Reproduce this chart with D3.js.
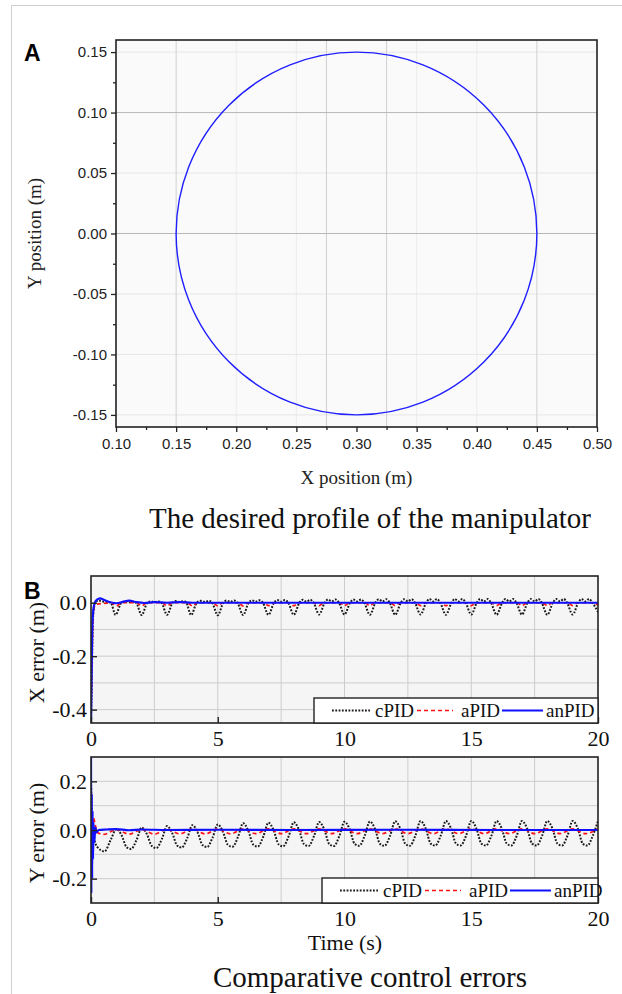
<!DOCTYPE html>
<html>
<head>
<meta charset="utf-8">
<script src="https://cdn.jsdelivr.net/npm/d3@7"></script>
<style>
  body { margin: 0; background: #fff; }
  svg { display: block; }
</style>
</head>
<body>
<div id="chart"></div>
<script>
// ---- panel A: desired circular profile ----
const circleCenter = [0.30, 0.00];
const circleRadius = 0.15;
const xTicksA = [0.10, 0.15, 0.20, 0.25, 0.30, 0.35, 0.40, 0.45, 0.50];
const yTicksA = [-0.15, -0.10, -0.05, 0.00, 0.05, 0.10, 0.15];
// grid lines that show in the figure (some darker than others)
const gridXA = [0.15, 0.275, 0.325, 0.45];
const gridYA = [0.10, 0.00];
const faintGridXA = [0.20, 0.25, 0.35, 0.40];
const faintGridYA = [0.15, 0.05, -0.05, -0.10, -0.15];

// ---- panel B: control errors, [time, error] ----
const xTicksB = [0, 5, 10, 15, 20];
const yTicksBx = [0.0, -0.2, -0.4];
const yTicksBy = [0.2, 0.0, -0.2];
const seriesNames = ["cPID", "aPID", "anPID"];

const cPIDx = [[0,-0.45],[0.03,-0.3],[0.06,-0.12],[0.1,-0.03],[0.15,0.0],[0.3,0.008],[0.5,0.004],[0.7,0.002],
  [0.78,0.0],[0.97,-0.045],[1.2,0.0],[1.35,0.004],[1.5,0.002],[1.65,0.004],
  [1.78,0.0],[2.0,-0.046],[2.22,0.0],[2.35,0.005],[2.5,0.002],[2.65,0.005],
  [2.78,0.0],[3.0,-0.045],[3.22,0.0],[3.35,0.006],[3.5,0.003],[3.65,0.006],
  [3.76,0.0],[3.95,-0.046],[4.17,0.0],[4.32,0.007],[4.5,0.003],[4.65,0.007],
  [4.78,0.0],[5.0,-0.047],[5.22,0.0],[5.35,0.008],[5.5,0.003],[5.65,0.008],
  [5.78,0.0],[6.0,-0.046],[6.22,0.0],[6.35,0.009],[6.5,0.004],[6.65,0.009],
  [6.78,0.0],[7.0,-0.045],[7.22,0.0],[7.35,0.010],[7.5,0.004],[7.65,0.010],
  [7.78,0.0],[8.0,-0.045],[8.22,0.0],[8.35,0.011],[8.5,0.004],[8.65,0.011],
  [8.78,0.0],[9.0,-0.044],[9.22,0.0],[9.35,0.012],[9.5,0.005],[9.65,0.012],
  [9.78,0.0],[10.0,-0.044],[10.22,0.0],[10.35,0.012],[10.5,0.005],[10.65,0.012],
  [10.78,0.0],[11.0,-0.045],[11.22,0.0],[11.35,0.013],[11.5,0.005],[11.65,0.013],
  [11.78,0.0],[12.0,-0.045],[12.22,0.0],[12.35,0.013],[12.5,0.005],[12.65,0.013],
  [12.78,0.0],[13.0,-0.044],[13.22,0.0],[13.35,0.014],[13.5,0.005],[13.65,0.014],
  [13.78,0.0],[14.0,-0.045],[14.22,0.0],[14.35,0.014],[14.5,0.005],[14.65,0.014],
  [14.78,0.0],[15.0,-0.044],[15.22,0.0],[15.35,0.014],[15.5,0.005],[15.65,0.014],
  [15.78,0.0],[16.0,-0.045],[16.22,0.0],[16.35,0.014],[16.5,0.005],[16.65,0.014],
  [16.78,0.0],[17.0,-0.044],[17.22,0.0],[17.35,0.014],[17.5,0.005],[17.65,0.014],
  [17.78,0.0],[18.0,-0.045],[18.22,0.0],[18.35,0.014],[18.5,0.005],[18.65,0.014],
  [18.78,0.0],[19.0,-0.044],[19.22,0.0],[19.35,0.014],[19.5,0.005],[19.65,0.014],
  [19.78,0.0],[20.0,-0.035]];

const aPIDx = [[0,-0.42],[0.04,-0.2],[0.08,-0.05],[0.15,-0.012],[0.3,-0.004],[0.6,-0.002],
  [0.8,0.0],[1.0,-0.012],[1.2,0.0],[1.8,0.0],[2.0,-0.012],[2.2,0.0],[2.8,0.0],[3.0,-0.012],[3.2,0.0],
  [3.8,0.0],[4.0,-0.012],[4.2,0.0],[4.8,0.0],[5.0,-0.012],[5.2,0.0],[5.8,0.0],[6.0,-0.012],[6.2,0.0],
  [6.8,0.0],[7.0,-0.011],[7.2,0.0],[7.8,0.0],[8.0,-0.011],[8.2,0.0],[8.8,0.0],[9.0,-0.011],[9.2,0.0],
  [9.8,0.0],[10.0,-0.011],[10.2,0.0],[10.8,0.0],[11.0,-0.011],[11.2,0.0],[11.8,0.0],[12.0,-0.011],[12.2,0.0],
  [12.8,0.0],[13.0,-0.011],[13.2,0.0],[13.8,0.0],[14.0,-0.011],[14.2,0.0],[14.8,0.0],[15.0,-0.011],[15.2,0.0],
  [15.8,0.0],[16.0,-0.011],[16.2,0.0],[16.8,0.0],[17.0,-0.011],[17.2,0.0],[17.8,0.0],[18.0,-0.011],[18.2,0.0],
  [18.8,0.0],[19.0,-0.011],[19.2,0.0],[19.8,0.0],[20.0,-0.01]];

const anPIDx = [[0,-0.45],[0.02,-0.3],[0.05,-0.1],[0.1,-0.02],[0.2,0.008],[0.35,0.016],[0.55,0.009],
  [0.8,0.001],[1.0,-0.002],[1.25,0.003],[1.5,0.008],[1.8,0.002],[2.1,-0.001],[2.5,0.002],[3.0,0.0],
  [3.5,0.002],[4.0,0.0],[6.0,0.0],[10.0,0.0],[14.0,0.0],[20.0,0.0]];

const cPIDy = [[0,0.2],[0.05,0.05],[0.1,-0.02],[0.25,-0.07],[0.53,-0.088],[0.78,-0.04],
  [1.0,0.004],[1.2,-0.02],[1.4,-0.07],[1.58,-0.078],[1.8,-0.04],
  [2.0,0.010],[2.2,-0.016],[2.4,-0.066],[2.58,-0.074],[2.8,-0.036],
  [3.0,0.016],[3.2,-0.012],[3.4,-0.064],[3.58,-0.072],[3.8,-0.032],
  [4.0,0.020],[4.2,-0.008],[4.4,-0.062],[4.58,-0.070],[4.8,-0.03],
  [5.0,0.023],[5.2,-0.006],[5.4,-0.061],[5.58,-0.069],[5.8,-0.028],
  [6.0,0.028],[6.2,-0.002],[6.4,-0.06],[6.58,-0.068],[6.8,-0.026],
  [7.0,0.030],[7.2,0.0],[7.4,-0.059],[7.58,-0.067],[7.8,-0.025],
  [8.0,0.032],[8.2,0.002],[8.4,-0.058],[8.58,-0.066],[8.8,-0.024],
  [9.0,0.033],[9.2,0.003],[9.4,-0.058],[9.58,-0.066],[9.8,-0.024],
  [10.0,0.034],[10.2,0.004],[10.4,-0.057],[10.58,-0.065],[10.8,-0.023],
  [11.0,0.035],[11.2,0.005],[11.4,-0.057],[11.58,-0.065],[11.8,-0.023],
  [12.0,0.036],[12.2,0.006],[12.4,-0.057],[12.58,-0.065],[12.8,-0.022],
  [13.0,0.037],[13.2,0.007],[13.4,-0.056],[13.58,-0.064],[13.8,-0.022],
  [14.0,0.037],[14.2,0.007],[14.4,-0.056],[14.58,-0.064],[14.8,-0.022],
  [15.0,0.037],[15.2,0.007],[15.4,-0.056],[15.58,-0.064],[15.8,-0.022],
  [16.0,0.037],[16.2,0.007],[16.4,-0.056],[16.58,-0.064],[16.8,-0.022],
  [17.0,0.037],[17.2,0.007],[17.4,-0.056],[17.58,-0.064],[17.8,-0.022],
  [18.0,0.037],[18.2,0.007],[18.4,-0.056],[18.58,-0.064],[18.8,-0.022],
  [19.0,0.037],[19.2,0.007],[19.4,-0.056],[19.58,-0.064],[19.8,-0.022],
  [20.0,0.037]];

const aPIDy = [[0,0.18],[0.02,-0.2],[0.05,0.02],[0.1,0.05],[0.15,0.03],[0.25,-0.01],[0.5,-0.018],
  [1.0,0.002],[1.5,-0.017],[2.0,0.003],[2.5,-0.017],[3.0,0.003],[3.5,-0.016],[4.0,0.004],[4.5,-0.016],
  [5.0,0.004],[5.5,-0.016],[6.0,0.004],[6.5,-0.015],[7.0,0.005],[7.5,-0.015],[8.0,0.005],[8.5,-0.015],
  [9.0,0.005],[9.5,-0.015],[10.0,0.005],[10.5,-0.015],[11.0,0.005],[11.5,-0.015],[12.0,0.005],[12.5,-0.015],
  [13.0,0.005],[13.5,-0.015],[14.0,0.005],[14.5,-0.015],[15.0,0.005],[15.5,-0.015],[16.0,0.005],[16.5,-0.015],
  [17.0,0.005],[17.5,-0.015],[18.0,0.005],[18.5,-0.015],[19.0,0.005],[19.5,-0.015],[20.0,0.005]];

const anPIDy = [[0,0.3],[0.015,-0.26],[0.03,0.15],[0.045,-0.2],[0.06,0.08],[0.08,-0.12],[0.1,0.03],
  [0.13,-0.05],[0.17,0.01],[0.22,-0.01],[0.3,0.0],[0.6,0.002],[1.0,0.004],[1.5,-0.001],[2.0,0.002],
  [3.0,0.0],[5.0,0.001],[8.0,0.0],[12.0,0.001],[16.0,0.0],[20.0,0.0]];

const W = 622, H = 994;
const serif = '"Times New Roman", "Liberation Serif", serif';
const sans = 'Arial, "Liberation Sans", sans-serif';
// the figure writes negatives with a plain hyphen
const hyphen = f => d => f(d).replace("\u2212", "-");

const svg = d3.select("#chart").append("svg")
  .attr("width", W).attr("height", H);

// outer frame of the figure (light gray, left and top)
svg.append("rect")
  .attr("x", 11.5).attr("y", 5.5).attr("width", 640).attr("height", 1000)
  .attr("fill", "none").attr("stroke", "#cfcfcf");

// ================= panel A =================
const pA = {left: 116, right: 597, top: 40, bottom: 427};
const xA = d3.scaleLinear().domain([0.1, 0.5]).range([pA.left, pA.right]);
const yA = d3.scaleLinear().domain([-0.16, 0.16]).range([pA.bottom, pA.top]);

svg.append("rect")
  .attr("x", pA.left).attr("y", pA.top)
  .attr("width", pA.right - pA.left).attr("height", pA.bottom - pA.top)
  .attr("fill", "#fafafa");

const gA = svg.append("g");
gA.selectAll(".fgx").data(faintGridXA).join("line")
  .attr("x1", d => xA(d)).attr("x2", d => xA(d))
  .attr("y1", pA.top).attr("y2", pA.bottom)
  .attr("stroke", "#ececec");
gA.selectAll(".fgy").data(faintGridYA).join("line")
  .attr("y1", d => yA(d)).attr("y2", d => yA(d))
  .attr("x1", pA.left).attr("x2", pA.right)
  .attr("stroke", "#e6e6e6");
gA.selectAll(".gx").data(gridXA).join("line")
  .attr("x1", d => xA(d)).attr("x2", d => xA(d))
  .attr("y1", pA.top).attr("y2", pA.bottom)
  .attr("stroke", "#d0d0d0");
gA.selectAll(".gy").data(gridYA).join("line")
  .attr("y1", d => yA(d)).attr("y2", d => yA(d))
  .attr("x1", pA.left).attr("x2", pA.right)
  .attr("stroke", "#b8b8b8");

svg.append("ellipse")
  .attr("cx", xA(circleCenter[0])).attr("cy", yA(circleCenter[1]))
  .attr("rx", xA(circleCenter[0] + circleRadius) - xA(circleCenter[0]))
  .attr("ry", yA(circleCenter[1] - circleRadius) - yA(circleCenter[1]))
  .attr("fill", "none").attr("stroke", "#1f1fff").attr("stroke-width", 1.4);

// minor ticks between majors
const minorXA = d3.range(0.125, 0.5, 0.05);
const minorYA = d3.range(-0.125, 0.15, 0.05);

const axA = svg.append("g").attr("transform", `translate(0,${pA.bottom})`)
  .call(d3.axisBottom(xA).tickValues(xTicksA).tickFormat(hyphen(d3.format(".2f"))).tickSize(5).tickPadding(6));
svg.append("g").attr("transform", `translate(0,${pA.bottom})`)
  .call(d3.axisBottom(xA).tickValues(minorXA).tickFormat("").tickSize(3))
  .select(".domain").remove();
const ayA = svg.append("g").attr("transform", `translate(${pA.left},0)`)
  .call(d3.axisLeft(yA).tickValues(yTicksA).tickFormat(hyphen(d3.format(".2f"))).tickSize(5).tickPadding(4));
svg.append("g").attr("transform", `translate(${pA.left},0)`)
  .call(d3.axisLeft(yA).tickValues(minorYA).tickFormat("").tickSize(3))
  .select(".domain").remove();
svg.selectAll(".tick line").attr("stroke", "#222").attr("stroke-width", 1.3);
[axA, ayA].forEach(a => {
  a.select(".domain").remove();
  a.selectAll("text").attr("font-family", sans).attr("font-size", 15).attr("fill", "#222");
});

svg.append("rect")
  .attr("x", pA.left).attr("y", pA.top)
  .attr("width", pA.right - pA.left).attr("height", pA.bottom - pA.top)
  .attr("fill", "none").attr("stroke", "#222").attr("stroke-width", 1.6);

svg.append("text").attr("x", 24).attr("y", 61)
  .attr("font-family", sans).attr("font-weight", "bold").attr("font-size", 23).text("A");
svg.append("text")
  .attr("transform", `translate(41,${yA(0)}) rotate(-90)`)
  .attr("text-anchor", "middle").attr("font-family", serif).attr("font-size", 19)
  .attr("fill", "#222").text("Y position (m)");
svg.append("text").attr("x", (pA.left + pA.right) / 2).attr("y", 484)
  .attr("text-anchor", "middle").attr("font-family", serif).attr("font-size", 19)
  .attr("fill", "#222").text("X position (m)");
svg.append("text").attr("x", 370).attr("y", 528)
  .attr("text-anchor", "middle").attr("font-family", serif).attr("font-size", 29)
  .attr("fill", "#111").text("The desired profile of the manipulator");

// ================= panel B =================
svg.append("text").attr("x", 24).attr("y", 599)
  .attr("font-family", sans).attr("font-weight", "bold").attr("font-size", 23).text("B");

const xB = d3.scaleLinear().domain([0, 20]).range([91, 598]);
const colors = {cPID: "#1a1a1a", aPID: "#ff1010", anPID: "#1010ff"};
const dashes = {cPID: "1.8,1.5", aPID: "4,3", anPID: null};
const widths = {cPID: 2, aPID: 1.7, anPID: 2.2};

function drawPanel(cfg) {
  const {top, bottom, yDomain, yTicks, gridY, data, ylabel, legendLeft, id} = cfg;
  const y = d3.scaleLinear().domain(yDomain).range([bottom, top]);
  const g = svg.append("g");
  const left = xB.range()[0], right = xB.range()[1];

  g.append("rect").attr("x", left).attr("y", top)
    .attr("width", right - left).attr("height", bottom - top).attr("fill", "#f5f5f5");

  g.selectAll(".vg").data(d3.range(2.5, 20, 2.5)).join("line")
    .attr("x1", d => xB(d)).attr("x2", d => xB(d)).attr("y1", top).attr("y2", bottom)
    .attr("stroke", "#cccccc");
  g.selectAll(".hg").data(gridY).join("line")
    .attr("y1", d => y(d)).attr("y2", d => y(d)).attr("x1", left).attr("x2", right)
    .attr("stroke", "#cccccc");

  svg.append("clipPath").attr("id", id).append("rect")
    .attr("x", left).attr("y", top).attr("width", right - left).attr("height", bottom - top);

  const line = d3.line().x(d => xB(d[0])).y(d => y(d[1])).curve(d3.curveMonotoneX);
  const lines = g.append("g").attr("clip-path", `url(#${id})`);
  seriesNames.forEach(name => {
    lines.append("path").datum(data[name])
      .attr("d", line).attr("fill", "none")
      .attr("stroke", colors[name]).attr("stroke-width", widths[name])
      .attr("stroke-dasharray", dashes[name]);
  });

  // inward ticks
  const ax = g.append("g").attr("transform", `translate(0,${bottom})`)
    .call(d3.axisBottom(xB).tickValues(xTicksB).tickSize(-6).tickPadding(7).tickFormat(d3.format("d")));
  const ay = g.append("g").attr("transform", `translate(${left},0)`)
    .call(d3.axisLeft(y).tickValues(yTicks).tickSize(-6).tickPadding(4).tickFormat(hyphen(d3.format(".1f"))));
  [ax, ay].forEach(a => {
    a.select(".domain").remove();
    a.selectAll(".tick line").attr("stroke", "#222").attr("stroke-width", 1.4);
    a.selectAll("text").attr("font-family", serif).attr("font-size", 22).attr("fill", "#111");
  });
  ax.selectAll("text").attr("dy", "0.72em");

  g.append("rect").attr("x", left).attr("y", top)
    .attr("width", right - left).attr("height", bottom - top)
    .attr("fill", "none").attr("stroke", "#222").attr("stroke-width", 1.6);

  g.append("text")
    .attr("transform", `translate(44,${(top + bottom) / 2 + 3}) rotate(-90)`)
    .attr("text-anchor", "middle").attr("font-family", serif).attr("font-size", 22)
    .attr("fill", "#111").text(ylabel);

  // legend
  const lg = g.append("g").attr("transform", `translate(${legendLeft},${bottom - 25})`);
  lg.append("rect").attr("width", right - legendLeft).attr("height", 25)
    .attr("fill", "#fff").attr("stroke", "#222").attr("stroke-width", 1.4);
  const entries = [
    {name: "cPID", x1: 18, x2: 56, tx: 61},
    {name: "aPID", x1: 103, x2: 139, tx: 147},
    {name: "anPID", x1: 188, x2: 229, tx: 232}
  ];
  entries.forEach(e => {
    lg.append("line").attr("x1", e.x1).attr("x2", e.x2).attr("y1", 12.5).attr("y2", 12.5)
      .attr("stroke", colors[e.name]).attr("stroke-width", widths[e.name])
      .attr("stroke-dasharray", dashes[e.name]);
    lg.append("text").attr("x", e.tx).attr("y", 19)
      .attr("font-family", serif).attr("font-size", 19).attr("fill", "#111").text(e.name);
  });
  return y;
}

drawPanel({top: 576, bottom: 723, yDomain: [-0.45, 0.1], yTicks: yTicksBx,
  gridY: [-0.1, -0.2, -0.3, -0.4], data: {cPID: cPIDx, aPID: aPIDx, anPID: anPIDx},
  ylabel: "X error (m)", legendLeft: 314, id: "clipX"});
drawPanel({top: 757, bottom: 903, yDomain: [-0.3, 0.3], yTicks: yTicksBy,
  gridY: [0.2, 0.1, 0.0, -0.1, -0.2], data: {cPID: cPIDy, aPID: aPIDy, anPID: anPIDy},
  ylabel: "Y error (m)", legendLeft: 322, id: "clipY"});

svg.append("text").attr("x", 345).attr("y", 950)
  .attr("text-anchor", "middle").attr("font-family", serif).attr("font-size", 22)
  .attr("fill", "#111").text("Time (s)");
svg.append("text").attr("x", 370).attr("y", 987)
  .attr("text-anchor", "middle").attr("font-family", serif).attr("font-size", 29)
  .attr("fill", "#111").text("Comparative control errors");
</script>
</body>
</html>
